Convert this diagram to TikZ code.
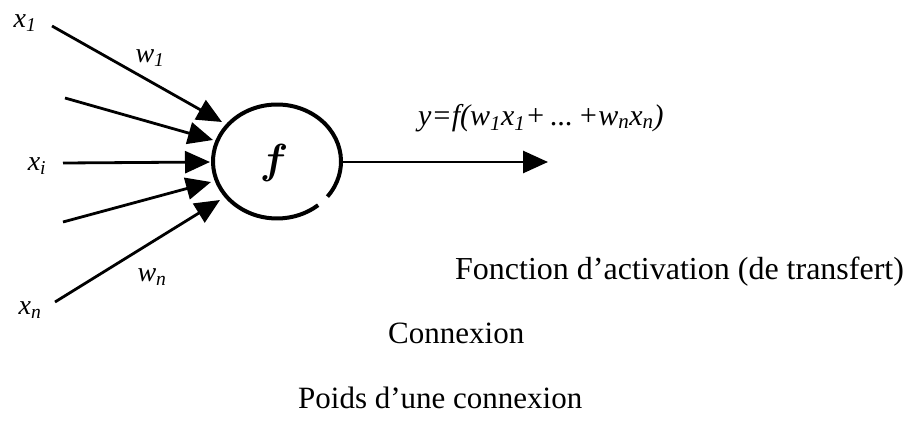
\documentclass[tikz,border=0pt]{standalone}
\usepackage{fontspec}
\usepackage{bm}
\setmainfont{Liberation Serif}
\usetikzlibrary{arrows.meta}
\begin{document}
\begin{tikzpicture}[x=1pt,y=1pt,
  conn/.style={line width=2.8pt,-{Triangle[length=25pt,width=22pt]}},
  lab/.style={font=\fontsize{28}{32}\selectfont\itshape, inner sep=0pt},
  txt/.style={font=\fontsize{31}{36}\selectfont, inner sep=0pt, anchor=base west},
  ring/.style={line width=4pt}]
\useasboundingbox (0,0) rectangle (911,-423);
% neuron
\coordinate (c) at (277,-161.5);
\node[inner sep=0pt, scale=4.2] (neuron) at (274,-163) {$\bm{f}$};
\draw[ring] (c) ++(-38:64pt and 57pt) arc[start angle=-38, end angle=310, x radius=64pt, y radius=57pt];
% inputs
\coordinate (s1) at (52,-26);   \coordinate (t1) at (222,-122);
\coordinate (s2) at (65,-98);   \coordinate (t2) at (213,-140);
\coordinate (s3) at (63,-163);  \coordinate (t3) at (210,-162);
\coordinate (s4) at (63,-222);  \coordinate (t4) at (211,-182);
\coordinate (s5) at (55,-302);  \coordinate (t5) at (220,-200);
\draw[conn] (s1) -- (t1);
\draw[conn] (s2) -- (t2);
\draw[conn] (s3) -- (t3);
\draw[conn] (s4) -- (t4);
\draw[conn] (s5) -- (t5);
% output
\coordinate (o1) at (342,-162);
\coordinate (o2) at (548,-162);
\draw[conn] (o1) -- (o2);
% labels
\node[lab] (lx1) at (25,-23) {x\textsubscript{1}};
\node[lab] (lw1) at (150,-58) {w\textsubscript{1}};
\node[lab] (lxi) at (37,-166) {x\textsubscript{i}};
\node[lab] (lwn) at (152,-277) {w\textsubscript{n}};
\node[lab] (lxn) at (30,-310) {x\textsubscript{n}};
\node[txt, font=\fontsize{30}{34}\selectfont\itshape] (form) at (418,-125) {y=f(w\textsubscript{1}x\textsubscript{1}+\,...\,+w\textsubscript{n}x\textsubscript{n})};
\node[txt, font=\fontsize{32}{36}\selectfont] (t-fonc) at (455,-279) {Fonction d’activation (de transfert)};
\node[txt] (t-conn) at (388,-343) {Connexion};
\node[txt] (t-poids) at (298,-408) {Poids d’une connexion};
\end{tikzpicture}
\end{document}
